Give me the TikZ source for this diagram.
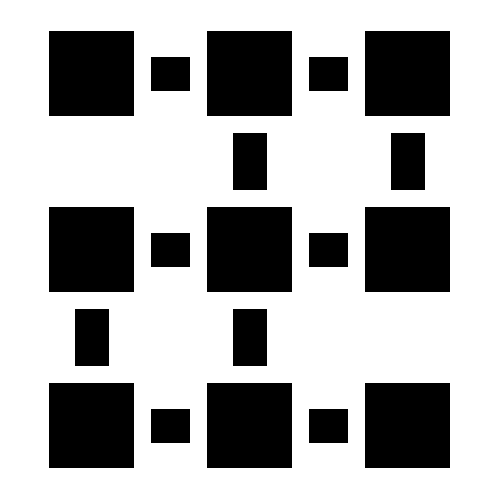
\documentclass[tikz,border=0pt]{standalone}
\tikzset{
    bigsq/.style = {fill=black, inner sep=0pt, minimum width=1.7cm, minimum height=1.7cm},
    hlink/.style = {fill=black, inner sep=0pt, minimum width=0.78cm, minimum height=0.68cm},
    vlink/.style = {fill=black, inner sep=0pt, minimum width=0.68cm, minimum height=1.14cm}
}

\begin{document}
\begin{tikzpicture}[x = 0.02cm, y = -0.02cm]
    \useasboundingbox (0,0) rectangle (500,500);
    \foreach \c/\x in {1/91.5, 2/249.5, 3/407.5}
    \foreach \r/\y in {1/73.5, 2/249.5, 3/425.5}
    \node[bigsq] (sq\r\c) at (\x, \y) {};
    \foreach \c/\x in {1/170.5, 2/328.5}
    \foreach \r/\y in {1/74, 2/250, 3/426}
    \node[hlink] (h\r\c) at (\x, \y) {};
    \node[vlink] (v12) at (250, 161.5) {};
    \node[vlink] (v13) at (408, 161.5) {};
    \node[vlink] (v21) at (92, 337.5) {};
    \node[vlink] (v22) at (250, 337.5) {};
\end{tikzpicture}
\end{document}
